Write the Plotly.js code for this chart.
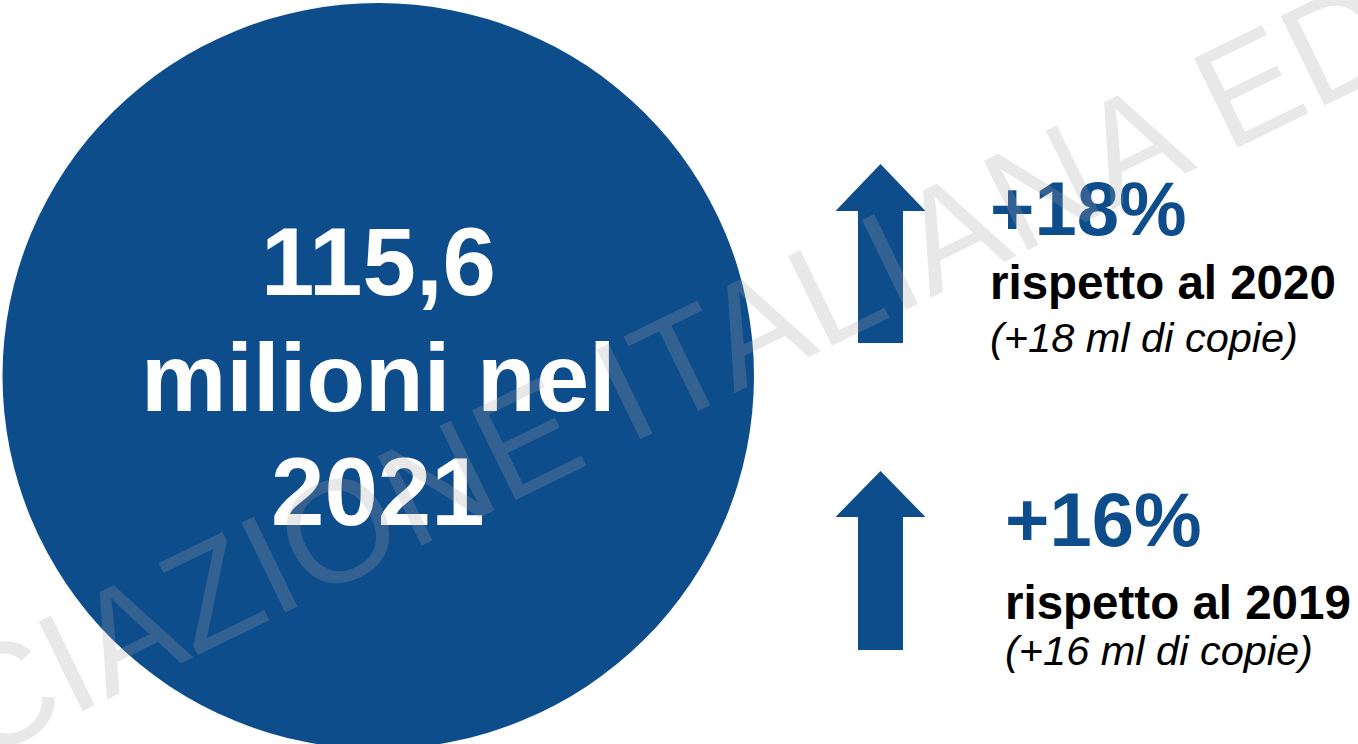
<!DOCTYPE html>
<html>
<head>
<meta charset="utf-8">
<script src="https://cdn.plot.ly/plotly-3.0.1.min.js"></script>
<style>
  html, body { margin: 0; padding: 0; background: #ffffff; }
  #chart { width: 1358px; height: 744px; }
</style>
</head>
<body>
<div id="chart"></div>
<script>
/* Copie vendute 2021 - infografica con cerchio e frecce */

// valori
const totalCopies = [115.6];          // milioni di copie
const totalYear = ['2021'];
const changePct = [18, 16];           // variazione %
const compareYears = ['2020', '2019'];
const changeCopies = [18, 16];        // milioni di copie in più

const BLUE = '#0e4d8c';
const FONT = '"Liberation Sans", Arial, sans-serif';
const W = 1358, H = 744;

// vertical placement: annotation box centre sits ~0.3465em above the baseline
const mid = (baseline, size) => baseline - 0.3465 * size;

const fmtIt = v => String(v).replace('.', ',');

// up arrow built from layout constants
function arrowPath(cx, top, headBase, bottom, headHalf, shaftHalf) {
    return `M ${cx - shaftHalf} ${bottom} L ${cx - shaftHalf} ${headBase} ` +
        `L ${cx - headHalf} ${headBase} L ${cx} ${top} L ${cx + headHalf} ${headBase} ` +
        `L ${cx + shaftHalf} ${headBase} L ${cx + shaftHalf} ${bottom} Z`;
}

const blocks = [
    { arrow: [880.5, 164, 211, 343], x: 988, base: [235, 299, 352] },
    { arrow: [880.5, 471, 517, 650], x: 1003, base: [546, 619, 665] },
];
const sizes = [76, 47.5, 41.5];

const shapes = [{
    type: 'circle', xref: 'x', yref: 'y',
    x0: 2.5, x1: 754, y0: 3, y1: 749,
    fillcolor: BLUE, line: { width: 0 }, layer: 'below',
}];

const annotations = [];

// testo nel cerchio
const centerLines = [fmtIt(totalCopies[0]), 'milioni nel', totalYear[0]];
const centerBase = [295, 411, 525];
centerLines.forEach((t, i) => {
    annotations.push({
        x: 378, y: mid(centerBase[i], 96), xref: 'x', yref: 'y',
        text: `<b>${t}</b>`, showarrow: false,
        xanchor: 'center', yanchor: 'middle',
        font: { family: FONT, size: 96, color: '#ffffff' },
    });
});

changePct.forEach((p, i) => {
    const b = blocks[i];
    shapes.push({
        type: 'path', xref: 'x', yref: 'y',
        path: arrowPath(b.arrow[0], b.arrow[1], b.arrow[2], b.arrow[3], 45, 22.5),
        fillcolor: BLUE, line: { width: 0 }, layer: 'below',
    });
    annotations.push({
        x: b.x, y: mid(b.base[0], sizes[0]), xref: 'x', yref: 'y',
        text: `<b>+${p}%</b>`, showarrow: false,
        xanchor: 'left', yanchor: 'middle',
        font: { family: FONT, size: sizes[0], color: BLUE },
    });
    annotations.push({
        x: b.x, y: mid(b.base[1], sizes[1]), xref: 'x', yref: 'y',
        text: `<b>rispetto al ${compareYears[i]}</b>`, showarrow: false,
        xanchor: 'left', yanchor: 'middle',
        font: { family: FONT, size: sizes[1], color: '#000000' },
    });
    annotations.push({
        x: b.x, y: mid(b.base[2], sizes[2]), xref: 'x', yref: 'y',
        text: `<i>(+${changeCopies[i]} ml di copie)</i>`, showarrow: false,
        xanchor: 'left', yanchor: 'middle',
        font: { family: FONT, size: sizes[2], color: '#000000' },
    });
});

// filigrana
annotations.push({
    x: 662, y: 373, xref: 'x', yref: 'y',
    text: 'ASSOCIAZIONE ITALIANA EDITORI', showarrow: false,
    textangle: -26, xanchor: 'center', yanchor: 'middle',
    font: { family: FONT, size: 145, color: 'rgba(163,163,163,0.25)' },
});

const layout = {
    width: W, height: H,
    margin: { l: 0, r: 0, t: 0, b: 0 },
    paper_bgcolor: '#ffffff', plot_bgcolor: '#ffffff',
    showlegend: false,
    xaxis: { range: [0, W], visible: false, fixedrange: true },
    yaxis: { range: [H, 0], visible: false, fixedrange: true },
    shapes, annotations,
};

Plotly.newPlot('chart', [], layout, { staticPlot: true, displayModeBar: false });
</script>
</body>
</html>
